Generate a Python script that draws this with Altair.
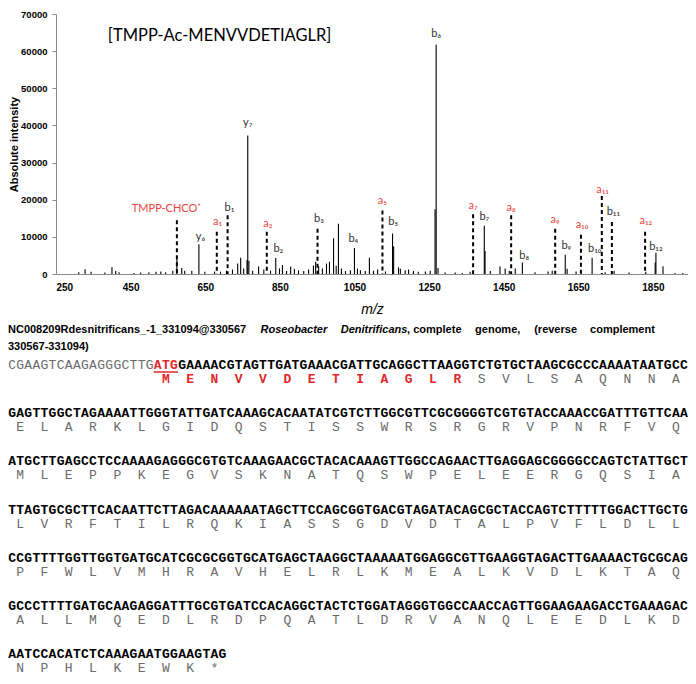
import altair as alt
import pandas as pd

# ---------------- spectrum: peaks (m/z, absolute intensity) ----------------
peak_mz = [311, 328, 344, 381, 400, 410, 419, 459, 477, 499, 518, 531, 544, 563, 574, 587, 595, 614, 633, 649,
           675, 691, 707, 723, 737, 745, 753, 762, 764, 767, 777, 793, 807, 825, 839, 849, 857, 868, 879, 889,
           900, 914, 927, 940, 946, 954, 964, 975, 983, 994, 1001, 1007, 1015, 1026, 1039, 1050, 1058, 1066, 1079, 1090,
           1101, 1112, 1133, 1152, 1155, 1168, 1173, 1186, 1195, 1208, 1221, 1240, 1253, 1266, 1269, 1274, 1293, 1320, 1339, 1360,
           1398, 1400, 1414, 1440, 1454, 1465, 1481, 1500, 1534, 1569, 1580, 1615, 1620, 1644, 1687, 1722, 1746, 1786, 1831, 1856,
           1858, 1877, 1909, 1930]
peak_int = [500, 1300, 600, 400, 1800, 800, 500, 300, 400, 500, 600, 700, 500, 900, 4400, 1600, 900, 900, 8000, 600,
            700, 600, 900, 1200, 2800, 4400, 1500, 3800, 37300, 3600, 900, 2000, 1200, 900, 4300, 1500, 2400, 800, 2000, 1400,
            1000, 800, 1200, 2300, 3300, 2000, 1500, 2800, 3300, 9600, 2200, 13500, 1500, 800, 1000, 7000, 1500, 1000, 800, 4400,
            900, 1200, 700, 10900, 7500, 1800, 1400, 1000, 1200, 800, 600, 700, 900, 17400, 61700, 1600, 400, 400, 300, 600,
            13000, 6200, 800, 2000, 1500, 900, 1500, 3100, 500, 700, 900, 5200, 1400, 700, 4400, 500, 800, 400, 600, 3100,
            5700, 2100, 300, 300]

# dashed (theoretical) fragment markers
dash_label = ["TMPP-CHCO\u207a", "a\u2081", "b\u2081", "a\u2082", "b\u2083", "a\u2085", "a\u2087", "a\u2088",
              "a\u2089", "a\u2081\u2080", "a\u2081\u2081", "b\u2081\u2081", "a\u2081\u2082"]
dash_mz = [574, 681, 710, 815, 951, 1125, 1368, 1470, 1588, 1657, 1713, 1740, 1829]
dash_label_mz = [546, 683, 715, 818, 955, 1125, 1368, 1470, 1588, 1660, 1715, 1744, 1831]
dash_top = [14500, 11400, 15800, 11400, 12200, 17100, 16100, 15800, 12200, 10600, 21000, 14000, 11400]
dash_label_int = [17600, 14000, 17900, 13500, 14800, 19700, 18400, 17900, 14500, 13200, 22600, 16600, 14300]
dash_series = ["a", "a", "b", "a", "b", "a", "a", "a", "a", "a", "a", "b", "a"]

# labels on observed peaks
peak_label = ["b\u2086", "y\u2087", "y\u2086", "b\u2082", "b\u2084", "b\u2085", "b\u2087", "b\u2088",
              "b\u2089", "b\u2081\u2080", "b\u2081\u2082"]
peak_label_mz = [1269, 764, 637, 846, 1047, 1154, 1398, 1505, 1618, 1694, 1858]
peak_label_int = [64600, 40700, 9850, 6700, 9300, 14000, 15300, 4900, 7500, 6700, 7300]

title_text = ["[TMPP-Ac-MENVVDETIAGLR]"]
title_mz = [389]
title_int = [64000]

x_ticks = [250, 450, 650, 850, 1050, 1250, 1450, 1650, 1850]
y_ticks = [0, 10000, 20000, 30000, 40000, 50000, 60000, 70000]

# ---------------- sequence panel ----------------
header_words = ["NC008209Rdesnitrificans_-1_331094@330567", "Roseobacter", "Denitrificans",
                ", complete", "genome,", "(reverse", "complement", "330567-331094)"]
header_word_col = [0, 31.2, 41.1, 49.3, 57.7, 65.0, 71.9, 0]
header_word_line = [0, 0, 0, 0, 0, 0, 0, 1]
header_word_italic = [False, True, True, False, False, False, False, False]

upstream = "CGAAGTCAAGAGGGCTTG"
dna_rows = [
    "CGAAGTCAAGAGGGCTTGATGGAAAACGTAGTTGATGAAACGATTGCAGGCTTAAGGTCTGTGCTAAGCGCCCAAAATAATGCC",
    "GAGTTGGCTAGAAAATTGGGTATTGATCAAAGCACAATATCGTCTTGGCGTTCGCGGGGTCGTGTACCAAACCGATTTGTTCAA",
    "ATGCTTGAGCCTCCAAAAGAGGGCGTGTCAAAGAACGCTACACAAAGTTGGCCAGAACTTGAGGAGCGGGGCCAGTCTATTGCT",
    "TTAGTGCGCTTCACAATTCTTAGACAAAAAATAGCTTCCAGCGGTGACGTAGATACAGCGCTACCAGTCTTTTTGGACTTGCTG",
    "CCGTTTTGGTTGGTGATGCATCGCGCGGTGCATGAGCTAAGGCTAAAAATGGAGGCGTTGAAGGTAGACTTGAAAACTGCGCAG",
    "GCCCTTTTGATGCAAGAGGATTTGCGTGATCCACAGGCTACTCTGGATAGGGTGGCCAACCAGTTGGAAGAAGACCTGAAAGAC",
    "AATCCACATCTCAAAGAATGGAAGTAG",
]
prot_rows = [
    "MENVVDETIAGLRSVLSAQNNA",
    "ELARKLGIDQSTISSWRSRGRVPNRFVQ",
    "MLEPPKEGVSKNATQSWPELEERGQSIA",
    "LVRFTILRQKIASSGDVDTALPVFLDLL",
    "PFWLVMHRAVHELRLKMEALKVDLKTAQ",
    "ALLMQEDLRDPQATLDRVANQLEEDLKD",
    "NPHLKEWK*",
]
peptide_len = 13

# ---------------- layout constants (pixels inside the single view) ----------------
W, H = 680, 668
PLOT_L, PLOT_R = 48, 680          # spectrum plot area, x
PLOT_T, PLOT_B = 6, 266           # spectrum plot area, y
ROW0_Y, ROW_PX = 357, 48.2        # first DNA line and line spacing
HDR1_Y, HDR2_Y = 322, 339         # header lines
PROT_DY, UL_DY = 14, 7
N_COLS = 84
RED = "#e3262b"
LABEL_RED = "#e8453c"
LABEL_DARK = "#333333"

# ---------------- spectrum layers ----------------
peaks_df = pd.DataFrame({"mz": peak_mz, "intensity": peak_int, "base": 0})
dash_df = pd.DataFrame({"mz": dash_mz, "top": dash_top, "base": 0})
dlab_df = pd.DataFrame({"mz": dash_label_mz, "label_int": dash_label_int, "label": dash_label,
                        "series": dash_series})
plab_df = pd.DataFrame({"mz": peak_label_mz, "label_int": peak_label_int, "label": peak_label})
title_df = pd.DataFrame({"mz": title_mz, "label_int": title_int, "label": title_text})

xs = alt.Scale(domain=[250, 1944], range=[PLOT_L, PLOT_R], nice=False, zero=False)
ys = alt.Scale(domain=[0, 70000], range=[PLOT_B, PLOT_T], nice=False)

x_axis = alt.Axis(values=x_ticks, format="d", title="m/z", grid=False, ticks=False,
                  offset=-(H - PLOT_B),
                  labelFont="Liberation Sans", labelFontWeight="bold", labelFontSize=10,
                  labelColor="black", labelPadding=8, domainColor="#8c8c8c",
                  titleFont="Liberation Sans", titleFontStyle="italic", titleFontWeight="normal",
                  titleFontSize=14, titleColor="black", titlePadding=10)
y_axis = alt.Axis(values=y_ticks, format="d", title="Absolute intensity", grid=False,
                  offset=-PLOT_L, labelOverlap=False,
                  tickSize=4, tickColor="#8c8c8c", domainColor="#8c8c8c",
                  labelFont="Liberation Sans", labelFontWeight="bold", labelFontSize=9.5,
                  labelColor="black", labelPadding=5,
                  titleFont="Liberation Sans", titleFontWeight="bold", titleFontSize=11,
                  titleColor="black", titlePadding=1)

peaks = alt.Chart(peaks_df).mark_rule(color="black", strokeWidth=1.1).encode(
    x=alt.X("mz:Q", scale=xs, axis=x_axis),
    y=alt.Y("intensity:Q", scale=ys, axis=y_axis),
    y2="base:Q",
)
dashes = alt.Chart(dash_df).mark_rule(color="black", strokeWidth=2, strokeDash=[4, 3]).encode(
    x=alt.X("mz:Q", scale=xs), y=alt.Y("top:Q", scale=ys), y2="base:Q")


def label_layer(df, color, flt=None):
    ch = alt.Chart(df)
    if flt is not None:
        ch = ch.transform_filter(flt)
    return ch.mark_text(font="Lato", fontSize=11, baseline="middle", color=color).encode(
        x=alt.X("mz:Q", scale=xs), y=alt.Y("label_int:Q", scale=ys), text="label:N")


dash_text_a = label_layer(dlab_df, LABEL_RED, "datum.series == 'a'")
dash_text_b = label_layer(dlab_df, LABEL_DARK, "datum.series == 'b'")
peak_text = label_layer(plab_df, LABEL_DARK)
title_mark = alt.Chart(title_df).mark_text(font="Lato", fontSize=16.5, align="left",
                                           baseline="middle", color="black").encode(
    x=alt.X("mz:Q", scale=xs), y=alt.Y("label_int:Q", scale=ys), text="label:N")

spectrum = alt.layer(peaks, dashes, dash_text_a, dash_text_b, peak_text, title_mark)

# ---------------- sequence layers ----------------
recs = []
for r, dna in enumerate(dna_rows):
    for c, ch in enumerate(dna):
        if r == 0 and c < len(upstream):
            style = "gray"
        elif r == 0 and c < len(upstream) + 3:
            style = "red"
        else:
            style = "black"
        recs.append({"col": c + 0.5, "line": r, "ch": ch, "style": style})
for r, prot in enumerate(prot_rows):
    start = len(upstream) if r == 0 else 0
    for i, aa in enumerate(prot):
        style = "red" if (r == 0 and i < peptide_len) else "gray"
        recs.append({"col": start + 3 * i + 1.5, "line": r + PROT_DY / ROW_PX, "ch": aa, "style": style})
seq_df = pd.DataFrame(recs)

hdr_lines = [(HDR1_Y - ROW0_Y) / ROW_PX, (HDR2_Y - ROW0_Y) / ROW_PX]
hdr_df = pd.DataFrame({
    "col": header_word_col,
    "line": [hdr_lines[k] for k in header_word_line],
    "txt": header_words,
    "italic": header_word_italic,
})
ul_df = pd.DataFrame({"c0": [len(upstream)], "c1": [len(upstream) + 3], "line": [UL_DY / ROW_PX]})

sx = alt.Scale(domain=[0, N_COLS], range=[0, W], nice=False, zero=False)
sy = alt.Scale(domain=[0, 6], range=[ROW0_Y, ROW0_Y + 6 * ROW_PX], nice=False, zero=False)


def char_layer(style, color, weight):
    return alt.Chart(seq_df).transform_filter(alt.datum.style == style).mark_text(
        font="Liberation Mono", fontSize=13, fontWeight=weight, color=color, baseline="middle"
    ).encode(x=alt.X("col:Q", scale=sx, axis=None), y=alt.Y("line:Q", scale=sy, axis=None), text="ch:N")


gray_l = char_layer("gray", "#6a6a6a", "normal")
black_l = char_layer("black", "black", "bold")
red_l = char_layer("red", RED, "bold")
underline = alt.Chart(ul_df).mark_rule(color=RED, strokeWidth=1.5).encode(
    x=alt.X("c0:Q", scale=sx, axis=None), x2="c1:Q", y=alt.Y("line:Q", scale=sy, axis=None))


def hdr_layer(italic):
    flt = "datum.italic" if italic else "!datum.italic"
    return alt.Chart(hdr_df).transform_filter(flt).mark_text(
        font="Liberation Sans", fontSize=11, fontWeight="bold",
        fontStyle="italic" if italic else "normal", align="left", baseline="middle", color="black"
    ).encode(x=alt.X("col:Q", scale=sx, axis=None), y=alt.Y("line:Q", scale=sy, axis=None), text="txt:N")


sequence = alt.layer(hdr_layer(False), hdr_layer(True), gray_l, black_l, red_l, underline)

chart = alt.layer(spectrum, sequence).resolve_scale(
    x="independent", y="independent"
).properties(
    width=W, height=H, padding=0,
    autosize=alt.AutoSizeParams(type="none"),
).configure_view(stroke=None)

chart.save("out.html", embed_options={"renderer": "svg", "actions": False})
